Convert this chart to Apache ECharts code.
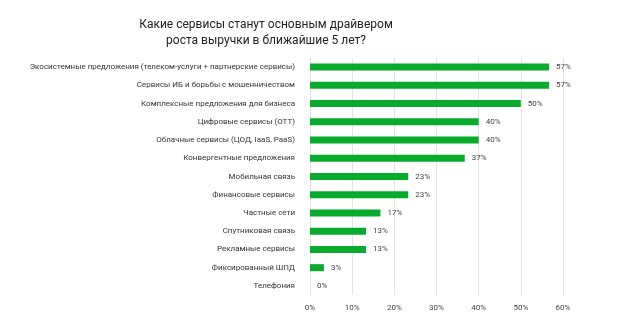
<!DOCTYPE html>
<html><head><meta charset="utf-8">
<script src="https://cdn.jsdelivr.net/npm/echarts@6/dist/echarts.min.js"></script>
<style>html,body{margin:0;padding:0;background:#fff}#c{width:623px;height:327px}</style>
</head><body><div id="c"></div>
<script>
const titleText = 'Какие сервисы станут основным драйвером\nроста выручки в ближайшие 5 лет?';
const categories = [
  'Экосистемные предложения (телеком-услуги + партнерские сервисы)',
  'Сервисы ИБ и борьбы с мошенничеством',
  'Комплексные предложения для бизнеса',
  'Цифровые сервисы (OTT)',
  'Облачные сервисы (ЦОД, IaaS, PaaS)',
  'Конвергентные предложения',
  'Мобильная связь',
  'Финансовые сервисы',
  'Частные сети',
  'Спутниковая связь',
  'Рекламные сервисы',
  'Фиксированный ШПД',
  'Телефония'
];
const values = [56.7, 56.7, 50, 40, 40, 36.7, 23.3, 23.3, 16.7, 13.3, 13.3, 3.3, 0];
const xTicks = [0, 10, 20, 30, 40, 50, 60];

const font = 'Roboto, sans-serif';
const chart = echarts.init(document.getElementById('c'));
chart.setOption({
  animation: false,
  title: {
    text: titleText, left: 261, top: 12, textAlign: 'center',
    textStyle: {fontFamily: font, fontSize: 12, fontWeight: 'normal', color: '#222', lineHeight: 16}
  },
  grid: {left: 310, right: 60, top: 58, bottom: 32, containLabel: false, outerBoundsMode: 'none'},
  xAxis: {
    type: 'value', min: xTicks[0], max: xTicks[xTicks.length - 1], interval: 10,
    axisLine: {show: false}, axisTick: {show: false},
    splitLine: {show: true, lineStyle: {color: '#e4e4e4', width: 1}},
    axisLabel: {fontFamily: font, fontSize: 8, color: '#444', formatter: v => v + '%', margin: 9}
  },
  yAxis: {
    type: 'category', data: categories, inverse: true,
    axisLine: {show: false}, axisTick: {show: false},
    axisLabel: {fontFamily: font, fontSize: 8, color: '#333', margin: 15}
  },
  series: [{
    type: 'bar', data: values, barWidth: 7,
    itemStyle: {color: '#08ab2b'},
    label: {show: true, position: 'right', distance: 7, fontFamily: font, fontSize: 8, color: '#444',
      formatter: p => Math.round(p.value) + '%'}
  }]
});
</script></body></html>
